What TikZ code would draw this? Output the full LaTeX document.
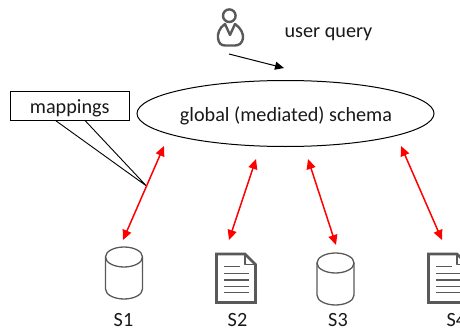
\documentclass[tikz,border=0pt]{standalone}
\usepackage{fontspec}
\setmainfont{Carlito}
\definecolor{icon}{HTML}{595959}
\tikzset{
  px/.style={x=1pt,y=-1pt},
  schema/.style={draw=black,line width=1pt,ellipse,minimum width=297pt,minimum height=66pt,inner sep=0pt},
  lbl/.style={inner sep=0pt,font=\fontsize{20.2}{24}\selectfont,text=black!90},
  link/.style={draw=red,line width=1.5pt,{Triangle[width=9pt,length=10pt]}-{Triangle[width=9pt,length=10pt]}},
  qarrow/.style={draw=black,line width=1pt,-{Triangle[width=8pt,length=9pt]}},
  cyl/.style={draw=icon,line width=1.3pt,line join=round},
  docbody/.style={draw=icon,line width=2.6pt,miter limit=4},
  docline/.style={draw=icon,line width=1.4pt},
  callout/.style={draw=black,line width=0.9pt},
}
\usetikzlibrary{shapes.geometric,arrows.meta}
\newcommand{\cylicon}[2]{%
  \draw[cyl] (#1,#2+10) -- (#1,#2+42) arc[start angle=180,end angle=0,x radius=18.5,y radius=10] -- (#1+37,#2+10);
  \draw[cyl] (#1+18.5,#2+10) ellipse[x radius=18.5,y radius=10];
}
\newcommand{\docicon}[2]{%
  \draw[docbody] (#1,#2) -- (#1+28.5,#2) -- (#1+39,#2+10.5) -- (#1+39,#2+48.5) -- (#1,#2+48.5) -- cycle;
  \draw[icon,line width=1.1pt,line join=round] (#1+28.5,#2) -- (#1+28.5,#2+10.5) -- (#1+39,#2+10.5);
  \draw[docline] (#1+7.5,#2+12.5) -- (#1+23,#2+12.5);
  \foreach \yy in {19.5,26,32.5,38.5} \draw[docline] (#1+7.5,#2+\yy) -- (#1+32,#2+\yy);
}
\begin{document}
\begin{tikzpicture}[px]
\useasboundingbox (0,0) rectangle (460,329);
\clip (0,0) rectangle (460,329);

% user icon
\draw[icon,line width=2.4pt] (229.3,15.7) circle[radius=6.3];
\draw[icon,line width=2.4pt,line join=round] (225,24)
  .. controls (219,28) and (217.5,34) .. (218,38)
  .. controls (218.5,43) and (221,45.5) .. (225,45.5)
  -- (235,45.5)
  .. controls (239,45.5) and (242.5,43) .. (243,38)
  .. controls (243.5,34) and (241,28) .. (235,24)
  -- (230,35) -- cycle;

\node[lbl,anchor=base] (query) at (328.5,37.3) {user query};

\coordinate (qstart) at (229,54);
\coordinate (qend) at (284,68);
\draw[qarrow] (qstart) -- (qend);

\node[schema] (global) at (285.5,113.5) {};
\node[lbl,anchor=base] (globaltext) at (286,121) {global (mediated) schema};

% mappings callout
\node[draw=black,line width=0.9pt,minimum width=119.5pt,text height=22pt,text depth=7.5pt,inner sep=0pt,lbl] (map) at (69.75,105.75) {mappings};
\coordinate (tip) at (146.5,186);
\coordinate (cl) at (55.5,120.5);
\coordinate (cr) at (85,120.5);
\draw[callout,line join=round] (cl) -- (tip) -- (cr);

% sources
\cylicon{105.5}{247}
\docicon{216.5}{254}
\cylicon{317}{253}
\docicon{428.5}{254}

\node[lbl,anchor=base] (s1) at (123.5,326.5) {S1};
\node[lbl,anchor=base] (s2) at (237.5,326.5) {S2};
\node[lbl,anchor=base] (s3) at (338,326.5) {S3};
\node[lbl,anchor=base west] (s4) at (446.5,326.5) {S4};

% red links
\coordinate (a1) at (164,146);\coordinate (b1) at (123,240);
\coordinate (a2) at (256,159);\coordinate (b2) at (229,240);
\coordinate (a3) at (308,159);\coordinate (b3) at (336,245);
\coordinate (a4) at (401,146);\coordinate (b4) at (442,240);
\draw[link] (a1) -- (b1);
\draw[link] (a2) -- (b2);
\draw[link] (a3) -- (b3);
\draw[link] (a4) -- (b4);
\end{tikzpicture}
\end{document}
